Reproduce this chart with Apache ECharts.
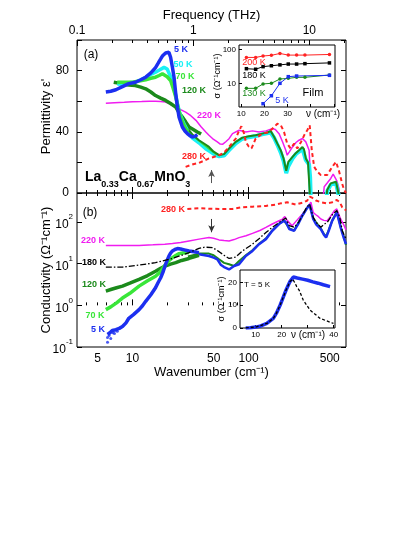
<!DOCTYPE html>
<html>
<head>
<meta charset="utf-8">
<script src="https://cdn.jsdelivr.net/npm/echarts@6.0.0/dist/echarts.min.js"></script>
<style>html,body{margin:0;padding:0;background:#fff}#main{width:415px;height:537px}</style>
</head>
<body>
<div id="main"></div>
<script>
var C = 33.356; // cm-1 per THz
var lg = Math.log10;
var FONT = 'Liberation Sans, Arial, sans-serif';

// ---- panel (a): permittivity, THz data
var a5K_nu = [5.9, 6.5, 7.2, 8.2, 9.3, 10.6, 11.8, 13, 14.4, 15.8, 16.7, 17.5, 18.1, 18.7, 19.3, 19.9, 20.6, 21.3, 22.1, 22.8, 23.6, 24.4, 25.2, 26.9, 28.3, 29.7, 31.2, 32.8, 34.5, 36.2];
var a5K_eps = [66, 66.5, 67.5, 69.5, 71.5, 72.4, 74, 75.7, 78.5, 82, 85, 87.6, 89.5, 90.8, 91.5, 92, 92, 88.7, 82, 75.7, 64.8, 56, 49.6, 43.1, 40.5, 38.8, 37.5, 36.6, 37, 38.2];
var a50K_nu = [7.4, 8.2, 9.3, 10.6, 11.8, 13, 14.4, 15.8, 17.2, 18.7, 19.9, 21.3, 22.1, 22.8, 23.6, 24.4, 25.6, 26.9, 28.3, 29.7];
var a50K_eps = [71, 71.5, 72, 72.4, 74, 75.7, 77.5, 78.9, 80.5, 82.1, 81, 76, 73, 69.1, 64, 58.3, 52, 47.5, 44, 41];
var a70K_nu = [7.4, 8.4, 10, 11.4, 13, 14.4, 15.8, 17, 18.1, 19.9, 21.3, 22.4, 23.6, 24.8, 26, 27.3, 28.7, 30];
var a70K_eps = [72.4, 72.4, 72.4, 73.2, 74, 75, 75.7, 76.8, 77.9, 76, 73.5, 68.5, 62.7, 55.5, 49.6, 45.5, 42.1, 40];
var a120K_nu = [6.9, 7.6, 8.2, 9.3, 10.6, 11.8, 13, 14.4, 15.8, 17.5, 19.3, 21.3, 23.6, 25.2, 26.9, 28.7, 30.7, 33.4, 36.2, 39];
var a120K_eps = [72.4, 71.8, 71, 70.6, 70.2, 69.2, 68.1, 66, 63.7, 62, 60.5, 58.5, 56.1, 52.5, 49.6, 46.5, 43.1, 41.5, 39.9, 38.5];

// panel (a): infrared data
var aIR50_nu = [27, 30, 33, 37.4, 42.8, 47, 52, 55.7, 61.5, 67.9, 77.6, 88.5, 101, 115, 131, 155, 166, 177, 189, 200, 211, 220, 239, 256, 272, 291, 300, 311, 332, 339, 345, 460, 475, 510, 566, 594, 620];
var aIR50_eps = [46, 40, 36, 33, 29.1, 27, 24.7, 24, 24.5, 28, 32.5, 35.5, 36.5, 37.2, 38.3, 39.5, 36, 31.5, 26.5, 21, 13, 17.5, 22.5, 25.5, 27, 29, 28, 21.5, 18.5, 10, -10, -10, 1, 5.5, 6.5, -1, -10];
var aIR70_nu = [28, 30, 33, 37.4, 42.8, 47, 52, 55.7];
var aIR70_eps = [44, 41, 37.5, 34, 30.5, 28, 25.5, 24.8];
var aIR120_nu = [30, 33, 37.4, 41, 45.6, 50, 55.7, 61.5, 67.9, 77.6, 88.5, 101, 115, 131, 145, 155, 166, 177, 189, 200, 211, 220, 239, 256, 272, 291, 300, 311, 325, 336, 342, 460, 475, 510, 566, 594, 620];
var aIR120_eps = [42, 38, 34.5, 32.5, 30.1, 27, 24.7, 25.4, 29.1, 33.4, 36.2, 37.1, 37.7, 38.8, 39.5, 40.5, 36.6, 32.3, 28, 22.6, 14.5, 20.4, 23.6, 26.2, 28, 30.1, 28.5, 22.6, 20, 19.3, -10, -10, 2, 6.3, 7.4, 0, -10];
var a220_nu = [5.9, 7, 8.5, 10, 12, 14, 15.8, 17.5, 19.3, 21.3, 23.6, 26, 28.7, 31.8, 35.2, 38.8, 42.8, 45.6, 48.9, 53.8, 57, 60, 63.6, 67.9, 72.7, 82.8, 94.6, 108, 123, 141, 160, 170, 183, 196, 209, 215, 225, 239, 256, 272, 291, 311, 332, 344, 350, 430, 448, 475, 510, 535, 575, 600, 620];
var a220_eps = [58.7, 59, 59.3, 59.6, 59.8, 60, 60, 59.8, 59.4, 58, 56, 54.5, 52.9, 50.5, 47.5, 43.5, 39.9, 37.7, 35.6, 33.4, 32, 31.9, 33.5, 35.5, 38.8, 41, 39.9, 40.6, 39.9, 40.6, 42.1, 41.5, 38.8, 33.5, 28, 24.7, 27, 30.1, 33, 34.5, 35.6, 33.4, 28, 5, -10, -10, 4.1, 6.5, 9.5, 12.4, 8, 3, -10];
var a280_nu = [28.7, 31, 34, 37.4, 41, 45.6, 50, 55.7, 61.5, 67.9, 72.7, 77.6, 82, 86.6, 91.5, 94.6, 100, 106, 115, 131, 150, 166, 177, 189, 202, 215, 230, 247, 263, 283, 301, 320, 336, 350, 367, 390, 419, 475, 525, 566, 603, 640, 665, 690];
var a280_eps = [17.1, 18, 19, 19.7, 21, 22.6, 23.5, 24.7, 26.5, 30.1, 33, 35.6, 40, 43.6, 38.8, 33.4, 30.5, 29.1, 35.6, 38.8, 39.9, 43.1, 45.3, 44.5, 39.9, 32.3, 29.1, 32.3, 29.1, 33.4, 37.7, 41, 44.2, 28, 17.1, 14, 11.7, 11.7, 17.1, 20.4, 13.9, 6, 2, 0];

// ---- panel (b): conductivity
var b280_nu = [29.7, 37.4, 45.6, 55.7, 72.7, 88.5, 108, 141, 170, 189, 202, 215, 235, 254, 280, 301, 320, 336, 344, 355, 380, 420, 465, 500, 525, 575, 610, 640, 690];
var b280_sig = [207, 216, 210, 207, 207, 228, 235, 245, 262, 282, 290, 300, 280, 265, 285, 300, 330, 410, 438, 380, 330, 300, 282, 290, 300, 340, 300, 228, 190];
var b220_nu = [5.9, 8, 11.4, 15, 19, 22.1, 26, 30.7, 37.4, 45.6, 50, 55.7, 61.5, 67.9, 75, 82.8, 95, 108, 125, 141, 160, 183, 196, 205, 215, 237, 260, 291, 315, 330, 344, 360, 380, 400, 419, 445, 475, 500, 525, 550, 575, 600, 620, 665, 690];
var b220_sig = [27.6, 27.6, 27.6, 28.5, 29.5, 30.5, 32.5, 35.3, 39, 42.4, 41, 37.4, 36, 35.3, 38, 42.4, 47, 53.5, 63, 74.5, 90, 108, 118, 136, 110, 82, 110, 157, 210, 255, 300, 170, 150, 135, 119, 110, 108, 130, 157, 190, 207, 150, 119, 82, 65];
var b180_nu = [5.9, 8.2, 11.4, 15.8, 22.1, 30.7, 37.4, 42, 48.9, 55.7, 61.5, 67.9, 77.6, 88.5, 108, 123, 141, 160, 183, 200, 209, 224, 247, 270, 291, 315, 335, 344, 360, 380, 419, 450, 475, 525, 575, 610, 640, 690];
var b180_sig = [8.3, 8.3, 9.3, 10.6, 13.4, 18.5, 23.4, 25, 24.5, 19.5, 16, 13.4, 14.5, 20.3, 29.5, 40, 56, 75, 98, 115, 125, 82, 75, 100, 144, 220, 270, 282, 130, 100, 75, 90, 98, 150, 190, 130, 62, 40];
var b120_nu = [5.9, 6.5, 7.3, 8.2, 9.5, 11.4, 13.5, 15.8, 17.5, 19.3, 21.3, 23.6, 26.5, 30.7, 34, 37.4];
var b120_sig = [2.2, 2.4, 2.65, 2.9, 3.4, 4.2, 5.2, 6.6, 7.8, 8.9, 9.8, 10.6, 12, 13.4, 14.6, 15.9];
var bIR120_nu = [30, 37.4, 45.6, 50, 55.7, 61.5, 67.9, 75, 82.8, 94.6, 108, 123, 141, 160, 183, 202, 209, 224, 247, 270, 291, 315, 335, 344, 360, 380, 419, 445, 465, 490, 525, 575, 620, 660, 690];
var bIR120_sig = [15, 17.5, 17.5, 16, 12.8, 10.5, 9.7, 8.8, 11.6, 16, 21, 30, 40, 63, 92, 110, 100, 70, 63, 100, 145, 210, 260, 280, 125, 100, 70, 52, 45, 65, 108, 175, 78, 45, 28];
var b70_nu = [5.9, 6.5, 7.3, 8.2, 9.5, 11.4, 13.5, 15.8, 17.5, 19.3, 20.6, 22.1, 23.6, 25.2, 27, 30.7];
var b70_sig = [0.79, 0.92, 1.15, 1.5, 1.95, 2.9, 3.9, 5, 6.5, 9.7, 11.8, 14, 15.8, 17.5, 18, 18.5];
var b5K_nu = [6.1, 6.4, 6.7, 7.2, 7.7, 8.2, 8.8, 9.3, 10.2, 11.4, 12.2, 13, 14.4, 15.8, 16.6, 17.5, 18.4, 19.3, 20, 20.6, 21.3, 22.1, 23.2, 24.4, 26, 28, 30.7, 34, 37.4];
var b5K_sig = [0.2, 0.22, 0.25, 0.26, 0.28, 0.31, 0.38, 0.49, 0.6, 0.79, 0.98, 1.25, 1.8, 2.65, 3.5, 4.6, 6.5, 9.7, 12.5, 15.3, 18, 20.3, 22, 23.1, 22.5, 21.5, 20.3, 19.3, 18.5];
var b5Kdot_nu = [6.1, 6.1, 6.3, 6.5, 6.8, 7.0, 7.4];
var b5Kdot_sig = [0.13, 0.17, 0.19, 0.16, 0.22, 0.21, 0.24];
var bIR5_nu = [37.4, 45.6, 50, 53.8, 57.5, 61.5, 67.9, 75, 82.8, 94.6, 108, 123, 141, 160, 183, 202, 212, 224, 247, 270, 291, 315, 335, 344, 360, 380, 419, 445, 465, 490, 525, 575, 620, 660, 690];
var bIR5_sig = [16.9, 15.3, 14, 12.8, 9.5, 8.3, 7.3, 8.8, 9.7, 15.3, 20.3, 29.5, 39, 62, 90, 108, 95, 68, 62, 95, 144, 205, 262, 274, 119, 90, 68, 50, 42.4, 62, 108, 170, 75, 42, 29.5];

// ---- inset (a): film
var filmNu = [12.2, 16.2, 19.4, 23, 26.7, 30.3, 33.9, 37.5, 48.1];
var film200 = [58, 58, 64, 67, 76, 68, 68, 68, 71];
var film180 = [27, 26, 31, 33, 35, 37, 37, 38, 40];
var film130 = [7.1, 7.1, 9.6, 10, 13.4, 14, 15, 15, 17.6];
var film5Nu = [19.4, 23, 26.7, 30.3, 33.9, 48.1];
var film5 = [2.5, 4.3, 10, 15.7, 16.4, 17.2];

// ---- inset (b): T = 5 K, linear
var t5Nu = [6.2, 8, 10, 12, 14.3, 16.8, 18, 19.4, 20.7, 21.7, 23.2, 24.5, 26, 28, 30, 32, 34, 36, 38.6];
var t5Sig = [0, 0.1, 0.4, 0.9, 2, 4.2, 6.5, 10, 13.8, 16.7, 20.4, 22.4, 22, 21.5, 21, 20.3, 19.7, 19, 18.2];
var fitNu = [6.2, 10, 14.3, 16.8, 18, 19.4, 20.7, 21.7, 23.2, 24.2, 25, 25.8, 26.7, 28.3, 30.9, 34.8, 39.9];
var fitSig = [0.05, 0.4, 2, 4.2, 6.5, 10, 13.8, 16.7, 20.4, 21.5, 20, 18.2, 16.7, 12.3, 7.9, 4.2, 2];

// ticks
var majorNu = [10, 100];
var minorNu = [4, 5, 6, 7, 8, 9, 20, 30, 40, 50, 60, 70, 80, 90, 200, 300, 400, 500, 600];
var nuLabels = [5, 10, 50, 100, 500];
var majorTHz = [0.1, 1, 10];
var minorTHz = [0.2, 0.3, 0.4, 0.5, 0.6, 0.7, 0.8, 0.9, 2, 3, 4, 5, 6, 7, 8, 9, 20];

var X_MIN = lg(3.33), X_MAX = lg(690);

function pts(nu, v, logY) {
    return nu.map(function (n, i) { return [lg(n), logY ? lg(v[i]) : v[i]]; });
}
function raw(nu, v) {
    return nu.map(function (n, i) { return [n, v[i]]; });
}
function rawLogY(nu, v) {
    return nu.map(function (n, i) { return [n, lg(v[i])]; });
}

function xAx(grid, pos, ticks, len, labels, fmt, margin, extra) {
    var ax = {
        type: 'value', gridIndex: grid, position: pos, min: X_MIN, max: X_MAX,
        axisLine: { show: false }, splitLine: { show: false },
        axisTick: { show: true, inside: true, length: len, customValues: ticks.map(lg), lineStyle: { color: '#000' } },
        axisLabel: labels ? { show: true, customValues: labels.map(lg), formatter: fmt, margin: margin, fontSize: 12, color: '#000', fontFamily: FONT } : { show: false }
    };
    return Object.assign(ax, extra || {});
}

function line(xi, yi, data, color, width, type, z) {
    return {
        type: 'line', xAxisIndex: xi, yAxisIndex: yi, data: data, showSymbol: false, symbol: 'none',
        lineStyle: { color: color, width: width, type: type || 'solid' }, z: z || 2, animation: false, silent: true
    };
}
function dots(data, color, symbol) {
    return {
        type: 'line', xAxisIndex: 8, yAxisIndex: 4, data: data, symbol: symbol, symbolSize: 3.5,
        lineStyle: { color: color, width: 1 }, itemStyle: { color: color }, z: 12, animation: false, silent: true
    };
}

var thzFmt = function (v) { return String(+(Math.pow(10, v) / C).toPrecision(1)); };
var nuFmt = function (v) { return String(Math.round(Math.pow(10, v))); };
var thzTicks = function (a) { return a.map(function (f) { return f * C; }); };

var BLUE = '#1c2ff0', CYAN = '#19f0f5', LGREEN = '#39e639', DGREEN = '#1b8a1b', MAG = '#f01cf0', RED = '#ff2222';

var charts = echarts.init(document.getElementById('main'), null, { renderer: 'canvas' });

function txt(x, y, s, color, size, weight, align) {
    return {
        type: 'text', x: x, y: y, z: 50,
        style: { text: s, fill: color, font: (weight || 'normal') + ' ' + size + 'px ' + FONT, align: align || 'center', textAlign: align || 'center', verticalAlign: 'middle', textVerticalAlign: 'middle' }
    };
}

// chemical formula with subscripts, laid out piece by piece
var ctx = document.createElement('canvas').getContext('2d');
var formula = [['La', 0], ['0.33', 1], ['Ca', 0], ['0.67', 1], ['MnO', 0], ['3', 1]];
var formulaEls = [];
var fx = 85;
formula.forEach(function (p) {
    ctx.font = 'bold ' + (p[1] ? 9 : 14) + 'px ' + FONT;
    formulaEls.push(txt(fx, p[1] ? 185 : 177, p[0], '#000', p[1] ? 9 : 14, 'bold', 'left'));
    fx += ctx.measureText(p[0]).width;
});

var nameStyle = { fontSize: 13, color: '#000', fontFamily: FONT };
var smallName = { fontSize: 9, color: '#000', fontFamily: FONT };

var option = {
    backgroundColor: '#fff',
    animation: false,
    grid: [
        { left: 77, top: 40, width: 269, height: 153, show: true, borderColor: '#000', borderWidth: 1, backgroundColor: 'transparent' },
        { left: 77, top: 193, width: 269, height: 154, show: true, borderColor: '#000', borderWidth: 1, backgroundColor: 'transparent' },
        { left: 239, top: 45, width: 96, height: 62, show: true, borderColor: '#000', borderWidth: 1, backgroundColor: '#fff', z: 10 },
        { left: 240, top: 270, width: 95, height: 58, show: true, borderColor: '#000', borderWidth: 1, backgroundColor: '#fff', z: 10 }
    ],
    xAxis: [
        xAx(0, 'bottom', majorNu, 6),
        xAx(0, 'bottom', minorNu, 3),
        xAx(0, 'top', thzTicks(majorTHz), 6, thzTicks(majorTHz), thzFmt, 3, {
            name: 'Frequency (THz)', nameLocation: 'middle', nameGap: 18, nameMoveOverlap: false, nameTextStyle: nameStyle
        }),
        xAx(0, 'top', thzTicks(minorTHz), 3),
        xAx(1, 'bottom', majorNu, 6, nuLabels, nuFmt, 6, {
            name: 'Wavenumber (cm\u207B\u00B9)', nameLocation: 'middle', nameGap: 19, nameMoveOverlap: false, nameTextStyle: nameStyle
        }),
        xAx(1, 'bottom', minorNu, 3),
        xAx(1, 'top', majorNu, 6),
        xAx(1, 'top', minorNu, 3),
        {
            type: 'value', gridIndex: 2, min: 9, max: 50.5, z: 12,
            axisLine: { show: false }, splitLine: { show: false },
            axisTick: { inside: true, length: 3, customValues: [10, 20, 30, 40, 50], lineStyle: { color: '#000' } },
            axisLabel: { customValues: [10, 20, 30], margin: 3, fontSize: 8, color: '#000', fontFamily: FONT }
        },
        {
            type: 'value', gridIndex: 3, min: 4, max: 40.5, z: 12,
            axisLine: { show: false }, splitLine: { show: false },
            axisTick: { inside: true, length: 3, customValues: [10, 20, 30, 40], lineStyle: { color: '#000' } },
            axisLabel: { customValues: [10, 20, 40], margin: 3, fontSize: 8, color: '#000', fontFamily: FONT }
        }
    ],
    yAxis: [
        {
            type: 'value', gridIndex: 0, position: 'left', min: 0, max: 100,
            axisLine: { show: false }, splitLine: { show: false },
            axisTick: { inside: true, length: 5, customValues: [0, 20, 40, 60, 80, 100], lineStyle: { color: '#000' } },
            axisLabel: { customValues: [0, 40, 80], margin: 8, fontSize: 12, color: '#000', fontFamily: FONT },
            name: "Permittivity \u03B5'", nameLocation: 'middle', nameGap: 24, nameMoveOverlap: false, nameTextStyle: nameStyle
        },
        {
            type: 'value', gridIndex: 0, position: 'right', min: 0, max: 100,
            axisLine: { show: false }, splitLine: { show: false },
            axisTick: { inside: true, length: 5, customValues: [0, 20, 40, 60, 80, 100], lineStyle: { color: '#000' } },
            axisLabel: { show: false }
        },
        {
            type: 'value', gridIndex: 1, position: 'left', min: -1, max: lg(500),
            axisLine: { show: false }, splitLine: { show: false },
            axisTick: { inside: true, length: 5, customValues: [-1, 0, 1, 2], lineStyle: { color: '#000' } },
            axisLabel: {
                customValues: [-1, 0, 1, 2], margin: 4, color: '#000', fontFamily: FONT,
                formatter: function (v) { return '{b|10}{e|' + Math.round(v) + '}'; },
                rich: {
                    b: { fontSize: 12, lineHeight: 18, fontFamily: FONT, color: '#000', verticalAlign: 'bottom' },
                    e: { fontSize: 8, lineHeight: 10, fontFamily: FONT, color: '#000', verticalAlign: 'top' }
                }
            },
            name: 'Conductivity (\u03A9\u207B\u00B9cm\u207B\u00B9)', nameLocation: 'middle', nameGap: 24, nameMoveOverlap: false, nameTextStyle: nameStyle
        },
        {
            type: 'value', gridIndex: 1, position: 'right', min: -1, max: lg(500),
            axisLine: { show: false }, splitLine: { show: false },
            axisTick: { inside: true, length: 5, customValues: [-1, 0, 1, 2], lineStyle: { color: '#000' } },
            axisLabel: { show: false }
        },
        {
            type: 'value', gridIndex: 2, min: lg(2), max: lg(135), z: 12,
            axisLine: { show: false }, splitLine: { show: false },
            axisTick: { inside: true, length: 3, customValues: [1, 2], lineStyle: { color: '#000' } },
            axisLabel: { customValues: [1, 2], formatter: nuFmt, margin: 3, fontSize: 8, color: '#000', fontFamily: FONT },
            name: '\u03C3 (\u03A9\u207B\u00B9cm\u207B\u00B9)', nameLocation: 'middle', nameGap: 17, nameMoveOverlap: false, nameTextStyle: smallName
        },
        {
            type: 'value', gridIndex: 3, min: 0, max: 25.5, z: 12,
            axisLine: { show: false }, splitLine: { show: false },
            axisTick: { inside: true, length: 3, customValues: [0, 10, 20], lineStyle: { color: '#000' } },
            axisLabel: { customValues: [0, 10, 20], margin: 3, fontSize: 8, color: '#000', fontFamily: FONT },
            name: '\u03C3 (\u03A9\u207B\u00B9cm\u207B\u00B9)', nameLocation: 'middle', nameGap: 14, nameMoveOverlap: false, nameTextStyle: smallName
        }
    ],
    series: [
        // panel (a)
        line(0, 0, pts(a280_nu, a280_eps), RED, 2, [4, 3], 3),
        Object.assign(line(0, 0, pts(a220_nu, a220_eps), MAG, 1.5), {
            markLine: {
                silent: true, symbol: ['none', 'arrow'], symbolSize: [5, 7], label: { show: false },
                lineStyle: { color: '#555', width: 1, type: 'solid' },
                data: [[{ coord: [lg(48), 6.5] }, { coord: [lg(48), 15] }]]
            }
        }),
        line(0, 0, pts(aIR50_nu, aIR50_eps), CYAN, 4),
        line(0, 0, pts(aIR70_nu, aIR70_eps), LGREEN, 1.5),
        line(0, 0, pts(aIR120_nu, aIR120_eps), DGREEN, 2),
        line(0, 0, pts(a120K_nu, a120K_eps), DGREEN, 3.5),
        line(0, 0, pts(a50K_nu, a50K_eps), CYAN, 3.5),
        line(0, 0, pts(a70K_nu, a70K_eps), LGREEN, 3.5),
        line(0, 0, pts(a5K_nu, a5K_eps), BLUE, 3.5),
        // panel (b)
        Object.assign(line(4, 2, pts(b280_nu, b280_sig, true), RED, 2, [4, 3], 3), {
            markLine: {
                silent: true, symbol: ['none', 'arrow'], symbolSize: [5, 7], label: { show: false },
                lineStyle: { color: '#333', width: 1, type: 'solid' },
                data: [[{ coord: [lg(48), lg(119)] }, { coord: [lg(48), lg(57)] }]]
            }
        }),
        line(4, 2, pts(b220_nu, b220_sig, true), MAG, 1.5),
        line(4, 2, pts(bIR120_nu, bIR120_sig, true), DGREEN, 2),
        line(4, 2, pts(bIR5_nu, bIR5_sig, true), BLUE, 2.5),
        line(4, 2, pts(b180_nu, b180_sig, true), '#000', 1.3, [6, 2, 1.5, 2], 4),
        line(4, 2, pts(b120_nu, b120_sig, true), DGREEN, 3.5),
        line(4, 2, pts(b70_nu, b70_sig, true), LGREEN, 3.5),
        line(4, 2, pts(b5K_nu, b5K_sig, true), BLUE, 3.5),
        {
            type: 'scatter', xAxisIndex: 4, yAxisIndex: 2, data: pts(b5Kdot_nu, b5Kdot_sig, true),
            symbolSize: 3, itemStyle: { color: BLUE }, animation: false, silent: true
        },
        // inset (a)
        dots(rawLogY(filmNu, film200), RED, 'circle'),
        dots(rawLogY(filmNu, film180), '#000', 'rect'),
        dots(rawLogY(filmNu, film130), DGREEN, 'circle'),
        dots(rawLogY(film5Nu, film5), BLUE, 'rect'),
        // inset (b)
        Object.assign(line(9, 5, raw(t5Nu, t5Sig), BLUE, 3.5), { z: 12 }),
        Object.assign(line(9, 5, raw(fitNu, fitSig), '#000', 1.3, [3, 2]), { z: 13 })
    ],
    graphic: [
        txt(91, 55, '(a)', '#000', 12),
        txt(181, 50, '5 K', BLUE, 9, 'bold'),
        txt(183, 65, '50 K', CYAN, 9, 'bold'),
        txt(185, 77, '70 K', LGREEN, 9, 'bold'),
        txt(194, 91, '120 K', DGREEN, 9, 'bold'),
        txt(209, 116, '220 K', MAG, 9, 'bold'),
        txt(194, 157, '280 K', RED, 9, 'bold'),
        txt(254, 63, '200 K', RED, 9),
        txt(254, 76, '180 K', '#000', 9),
        txt(254, 94, '130 K', DGREEN, 9),
        txt(282, 101, '5 K', BLUE, 9),
        txt(313, 93, 'Film', '#000', 11),
        txt(323, 114, '\u03BD (cm\u207B\u00B9)', '#000', 10),
        txt(90, 213, '(b)', '#000', 12),
        txt(173, 210, '280 K', RED, 9, 'bold'),
        txt(93, 241, '220 K', MAG, 9, 'bold'),
        txt(94, 263, '180 K', '#000', 9, 'bold'),
        txt(94, 285, '120 K', DGREEN, 9, 'bold'),
        txt(95, 316, '70 K', LGREEN, 9, 'bold'),
        txt(98, 330, '5 K', BLUE, 9, 'bold'),
        txt(257, 285, 'T = 5 K', '#000', 8),
        txt(308, 335, '\u03BD (cm\u207B\u00B9)', '#000', 10)
    ].concat(formulaEls)
};

//渲染图表
if (option && typeof option === "object") {
    charts.setOption(option, true);
}
</script>
</body>
</html>
